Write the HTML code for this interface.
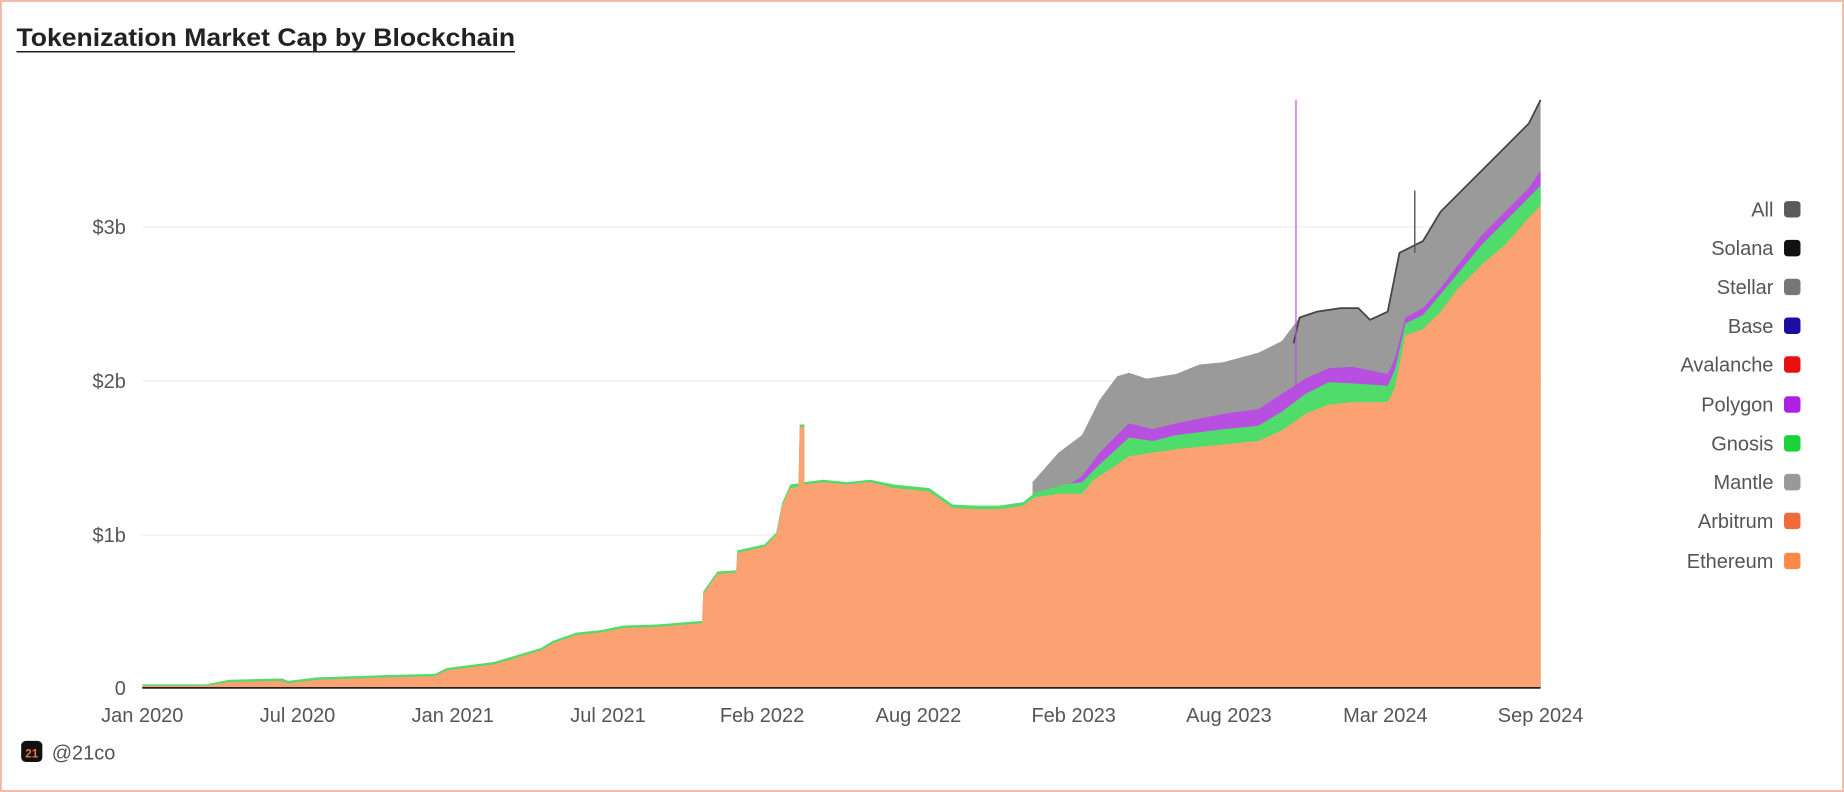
<!DOCTYPE html>
<html><head><meta charset="utf-8"><style>
html,body{margin:0;padding:0;background:#fff;}
svg{display:block;}
text{font-family:"Liberation Sans",sans-serif;}
</style></head><body>
<svg width="1844" height="792" viewBox="0 0 1568 673.5" preserveAspectRatio="none">
<rect x="0.8" y="0.8" width="1566.4" height="671.9" fill="#fff" stroke="#f2b8a8" stroke-width="1.6"/>
<text x="14" y="39" font-size="21" fill="#222" font-weight="bold" textLength="424" lengthAdjust="spacingAndGlyphs">Tokenization Market Cap by Blockchain</text>
<line x1="14" y1="44" x2="438" y2="44" stroke="#222" stroke-width="1.3"/>
<g stroke="#ececec" stroke-width="1">
<line x1="121" y1="193" x2="1310" y2="193"/><line x1="121" y1="324" x2="1310" y2="324"/><line x1="121" y1="455" x2="1310" y2="455"/>
</g>
<g font-size="17" fill="#555" text-anchor="end">
<text x="107" y="199">$3b</text><text x="107" y="330">$2b</text><text x="107" y="461">$1b</text><text x="107" y="591">0</text>
</g>
<polygon fill="#9a9a9a" points="878,585 878,410 900,385 920,370 935,340 950,320 960,317 975,322 1000,318 1020,310 1040,308 1070,300 1090,290 1105,270 1120,265 1140,262 1155,262 1165,272 1180,265 1190,215 1210,205 1225,180 1250,155 1280,125 1300,105 1310,85 1310,585"/>
<polyline fill="none" stroke="#444" stroke-width="1.5" points="1100,292 1105,270 1120,265 1140,262 1155,262 1165,272 1180,265 1190,215 1210,205 1225,180 1250,155 1280,125 1300,105 1310,85"/>
<line x1="1203" y1="162" x2="1203" y2="215" stroke="#555" stroke-width="1.2"/>
<polygon fill="#b84fe0" points="905,585 905,415 920,405 935,385 960,360 980,365 1000,360 1040,352 1070,348 1090,335 1110,322 1130,313 1150,312 1180,318 1186,305 1195,270 1210,262 1225,245 1240,225 1260,200 1280,180 1300,160 1310,145 1310,585"/>
<line x1="1102" y1="85" x2="1102" y2="330" stroke="#b84fe0" stroke-width="1"/>
<polygon fill="#4fdc6a" points="121,585 121,582 175,582 195,578 240,577 245,579 270,576 330,574 370,573 380,568 420,563 460,551 470,545 490,538 510,536 530,532 560,531 597,528 598,503 610,486 626,485 627,468 650,463 660,453 665,428 672,412 679,411 680,361 684,361 684,410 700,408 720,410 740,408 760,412 790,415 800,422 810,429 830,430 850,430 870,427 880,419 905,412 920,410 935,395 960,372 980,375 1000,370 1040,365 1070,362 1090,350 1110,335 1130,325 1150,326 1180,328 1186,315 1195,275 1210,268 1225,250 1240,232 1260,208 1280,188 1300,168 1310,158 1310,585"/>
<polygon fill="#fca272" points="121,585 121,583 175,583 195,580 240,579 245,581 270,578 330,576 370,575 380,570 420,565 460,553 470,547 490,540 510,538 530,534 560,533 597,530 598,505 610,488 626,487 627,470 650,465 660,455 665,430 672,415 679,414 680,363 684,363 684,412 700,410 720,412 740,410 760,415 790,418 800,425 810,432 830,433 850,433 870,430 880,423 900,420 920,420 930,408 950,395 960,388 980,385 1000,382 1040,378 1070,375 1090,366 1110,352 1130,344 1150,342 1180,342 1186,330 1195,285 1210,280 1225,265 1240,245 1260,225 1280,208 1300,185 1310,175 1310,585"/>
<line x1="121" y1="585" x2="1310" y2="585" stroke="#222" stroke-width="1.5"/>
<g font-size="17" fill="#555" text-anchor="middle">
<text x="121" y="614">Jan 2020</text><text x="253" y="614">Jul 2020</text><text x="385" y="614">Jan 2021</text><text x="517" y="614">Jul 2021</text><text x="648" y="614">Feb 2022</text><text x="781" y="614">Aug 2022</text><text x="913" y="614">Feb 2023</text><text x="1045" y="614">Aug 2023</text><text x="1178" y="614">Mar 2024</text><text x="1310" y="614">Sep 2024</text>
</g>
<g font-size="17" fill="#555" text-anchor="end">
<text x="1508" y="184">All</text><text x="1508" y="217">Solana</text><text x="1508" y="250">Stellar</text><text x="1508" y="283">Base</text><text x="1508" y="316">Avalanche</text><text x="1508" y="350">Polygon</text><text x="1508" y="383">Gnosis</text><text x="1508" y="416">Mantle</text><text x="1508" y="449">Arbitrum</text><text x="1508" y="483">Ethereum</text>
</g>
<g>
<rect x="1517" y="171" width="14" height="14" rx="3" fill="#5a5a5e"/>
<rect x="1517" y="204" width="14" height="14" rx="3" fill="#111"/>
<rect x="1517" y="237" width="14" height="14" rx="3" fill="#777"/>
<rect x="1517" y="270" width="14" height="14" rx="3" fill="#1a0f9e"/>
<rect x="1517" y="303" width="14" height="14" rx="3" fill="#e81010"/>
<rect x="1517" y="337" width="14" height="14" rx="3" fill="#b020e0"/>
<rect x="1517" y="370" width="14" height="14" rx="3" fill="#1ad23a"/>
<rect x="1517" y="403" width="14" height="14" rx="3" fill="#999"/>
<rect x="1517" y="436" width="14" height="14" rx="3" fill="#f06a3a"/>
<rect x="1517" y="470" width="14" height="14" rx="3" fill="#fb8a48"/>
</g>
<rect x="18" y="630" width="18" height="18" rx="4" fill="#111"/>
<text x="27" y="644" font-size="10" fill="#f07040" text-anchor="middle" font-weight="bold">21</text>
<text x="44" y="646" font-size="17" fill="#555">@21co</text>
</svg>
</body></html>
